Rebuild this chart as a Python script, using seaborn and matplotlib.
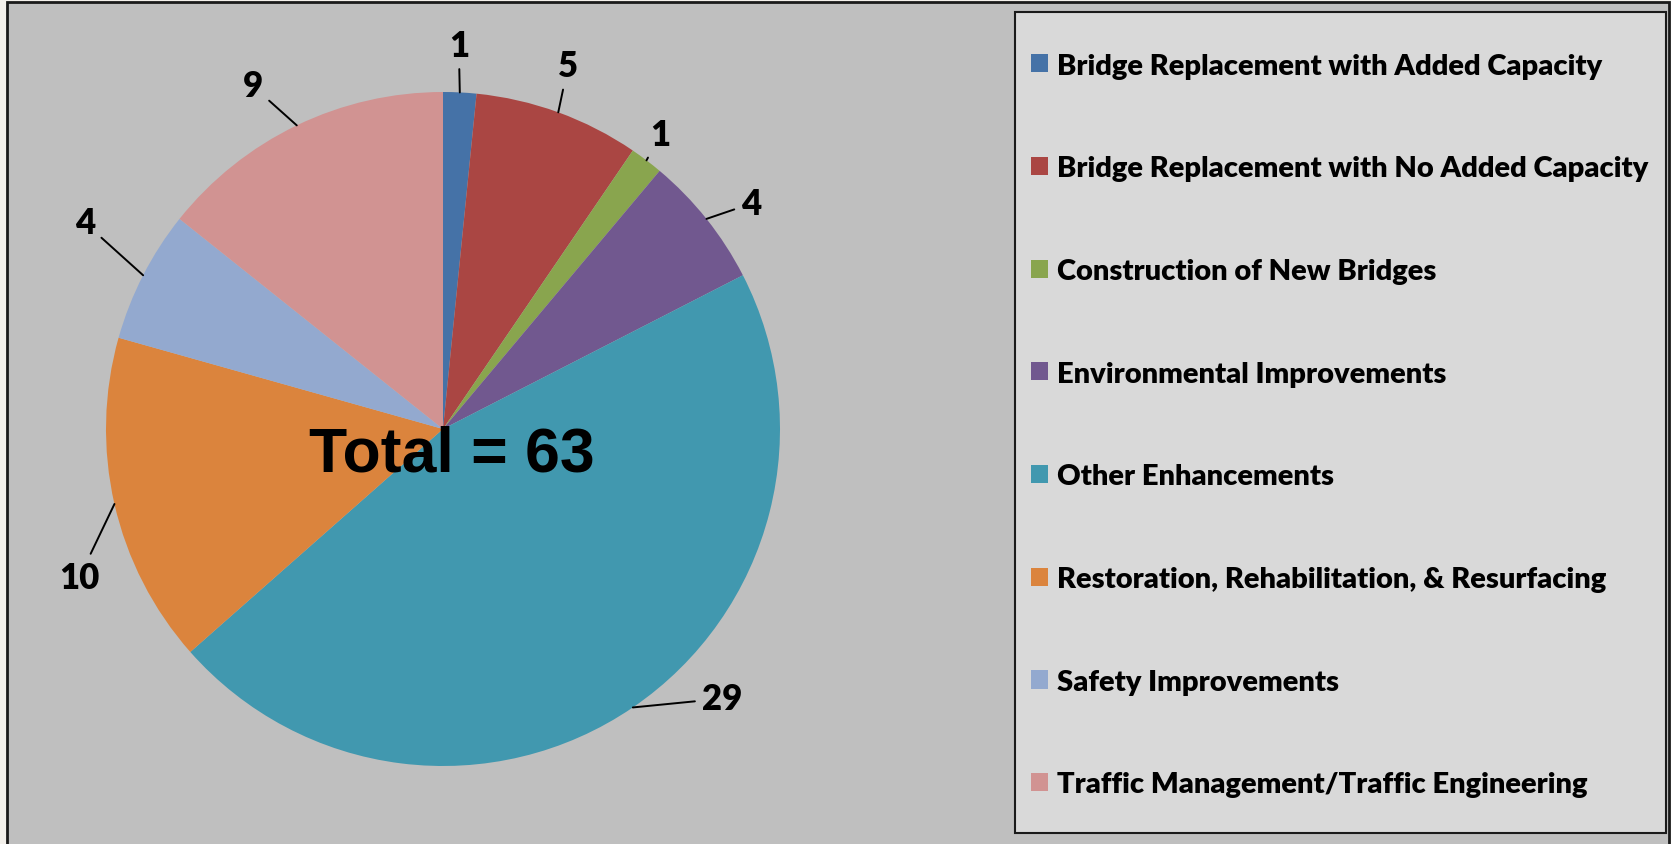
import numpy as np
import matplotlib
matplotlib.use("Agg")
import matplotlib.pyplot as plt
import seaborn as sns
from matplotlib.patches import Patch, Rectangle

# -----------------------------
# data
# -----------------------------
categories = [
    "Bridge Replacement with Added Capacity",
    "Bridge Replacement with No Added Capacity",
    "Construction of New Bridges",
    "Environmental Improvements",
    "Other Enhancements",
    "Restoration, Rehabilitation, & Resurfacing",
    "Safety Improvements",
    "Traffic Management/Traffic Engineering",
]
counts = [1, 5, 1, 4, 29, 10, 4, 9]
colors = ["#4572a7", "#aa4643", "#89a54e", "#71588f",
          "#4198af", "#db843d", "#93a9cf", "#d19392"]
total_label = "Total = 63"

# label placement tweaks (degrees added to the wedge mid-angle, radius)
label_nudge = [0.5, 1, 2, -1.5, 9.6, 10.5, -3.5, 2]
label_r = [1.14, 1.14, 1.07, 1.11, 1.11, 1.11, 1.2, 1.15]

# -----------------------------
# style
# -----------------------------
sns.set_theme(style="white")
plt.rcParams["font.family"] = ["Lato", "DejaVu Sans"]
plt.rcParams["font.weight"] = "bold"
plt.rcParams["text.color"] = "black"
palette = sns.color_palette(colors)

W, H = 1671, 845
fig = plt.figure(figsize=(W / 100, H / 100), dpi=100)
fig.patch.set_facecolor("#f3f0eb")

# chart area background with frame
fig.patches.append(Rectangle((7 / W, -0.01), (W - 9) / W, 1 - 3 / H + 0.01,
                             transform=fig.transFigure, facecolor="#bfbfbf",
                             edgecolor="#1a1a1a", linewidth=2, zorder=-5))

# legend box
fig.patches.append(Rectangle((1015 / W, 1 - 834 / H), 651 / W, 821 / H,
                             transform=fig.transFigure, facecolor="#d9d9d9",
                             edgecolor="#1a1a1a", linewidth=1.5, zorder=-4))

# -----------------------------
# pie
# -----------------------------
cx, cy, R = 443, 430, 337
ax = fig.add_axes([(cx - R) / W, 1 - (cy + R) / H, 2 * R / W, 2 * R / H])
ax.set_zorder(2)
ax.patch.set_visible(False)

wedges, _ = ax.pie(counts, colors=palette, startangle=90, counterclock=False,
                   radius=1, wedgeprops=dict(linewidth=0))
ax.set_xlim(-1, 1)
ax.set_ylim(-1, 1)
ax.set_aspect("equal")
ax.axis("off")

# data labels with leader lines
for w, n, dn, r in zip(wedges, counts, label_nudge, label_r):
    mid = (w.theta1 + w.theta2) / 2
    ang = np.deg2rad(mid)
    lab = np.deg2rad(mid + dn)
    x0, y0 = np.cos(ang), np.sin(ang)
    lx, ly = r * np.cos(lab), r * np.sin(lab)
    ha = "left" if lx > 0.5 else ("right" if lx < -0.5 else "center")
    ax.annotate(str(n), xy=(x0, y0), xytext=(lx, ly),
                ha=ha, va="center", fontsize=25, fontweight="heavy",
                color="black", annotation_clip=False,
                arrowprops=dict(arrowstyle="-", color="black", lw=1.4,
                                shrinkA=3, shrinkB=0))

ax.text(0.025, -0.075, total_label, ha="center", va="center",
        fontsize=45, fontweight="bold", family="Liberation Sans", color="black")

# -----------------------------
# legend
# -----------------------------
handles = [Patch(facecolor=c, edgecolor="none") for c in palette]
leg = fig.legend(handles, categories, loc="center left",
                 bbox_to_anchor=(1031 / W, 1 - 426 / H), frameon=False,
                 handlelength=0.58, handleheight=0.58,
                 handletextpad=0.3, labelspacing=2.63, borderpad=0, borderaxespad=0,
                 prop=dict(weight="heavy", size=21))
for t in leg.get_texts():
    t.set_color("black")

fig.savefig("out.png", dpi=100, facecolor=fig.get_facecolor())
